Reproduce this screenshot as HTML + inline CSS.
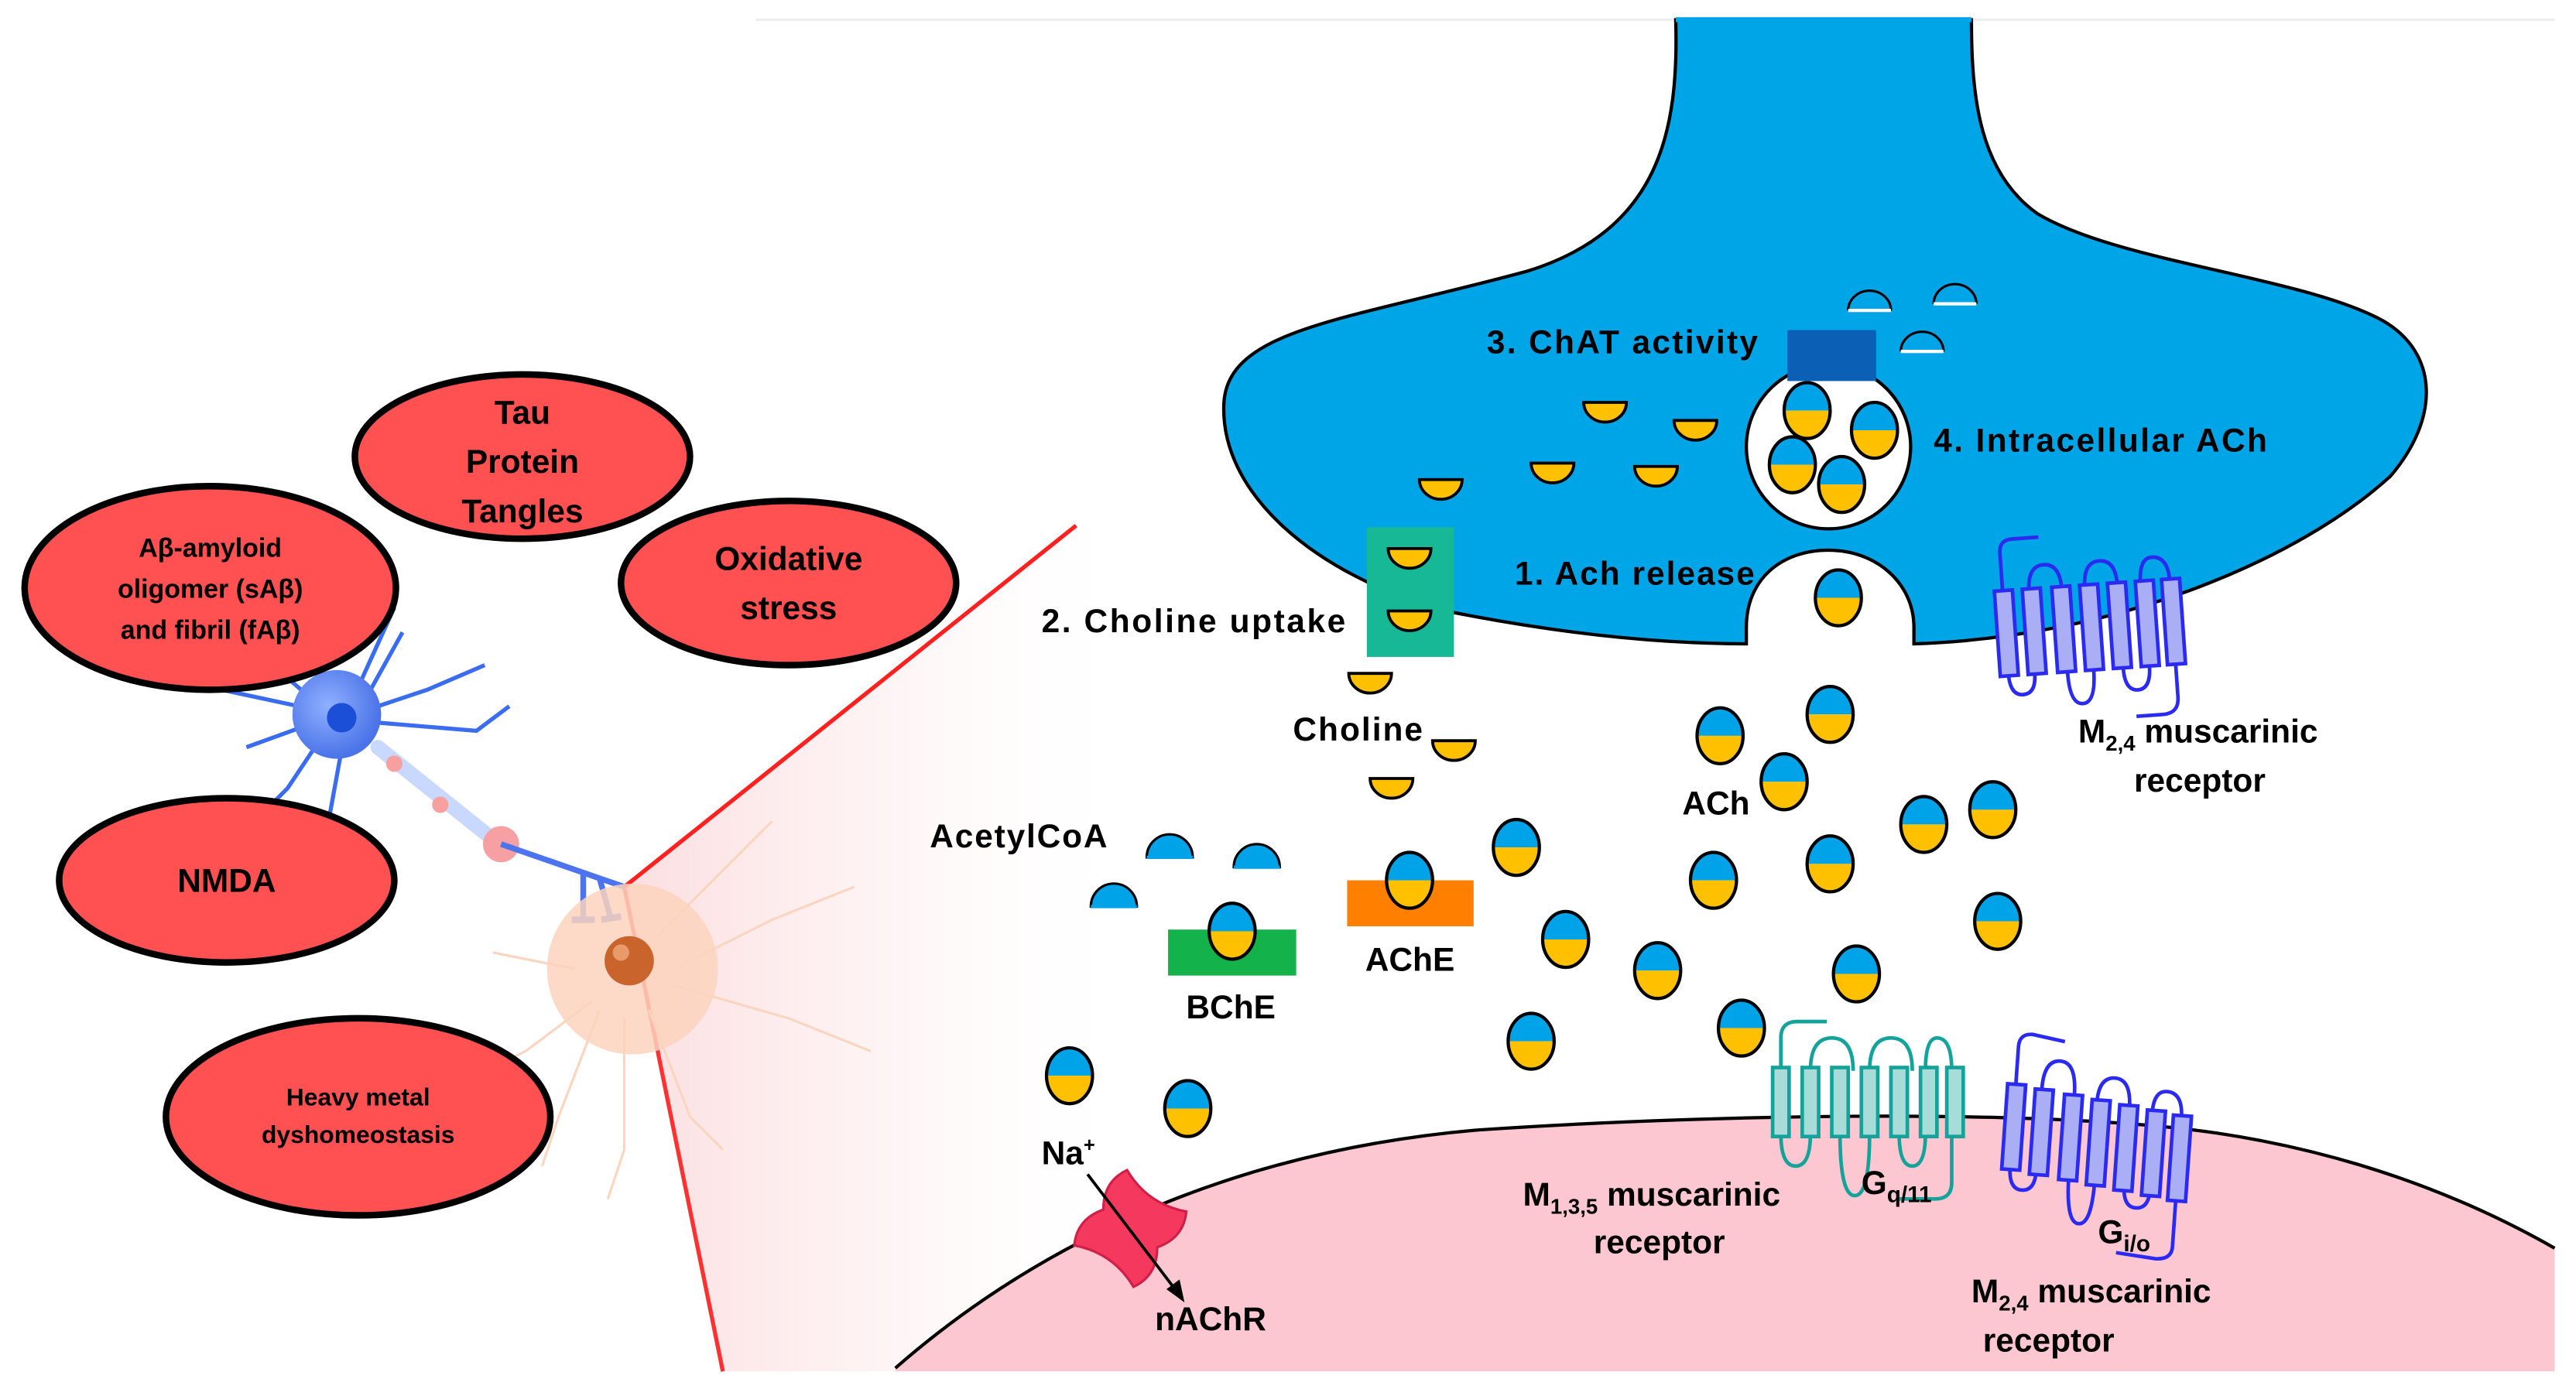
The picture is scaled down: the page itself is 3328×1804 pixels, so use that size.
<!DOCTYPE html>
<html><head><meta charset="utf-8"><style>
html,body{margin:0;padding:0;background:#fff;}
svg{display:block}
text{font-family:"Liberation Sans",sans-serif;font-weight:bold;fill:#000}
</style></head><body>
<svg width="3328" height="1804" viewBox="0 0 1568 850" preserveAspectRatio="none" xmlns="http://www.w3.org/2000/svg">
<defs>
<linearGradient id="wedge" x1="0" y1="0" x2="1" y2="0">
<stop offset="0" stop-color="#fbd6d8" stop-opacity="0.8"/>
<stop offset="0.25" stop-color="#fde8e9" stop-opacity="0.5"/>
<stop offset="0.5" stop-color="#fff" stop-opacity="0"/>
</linearGradient>
<radialGradient id="bn" cx="0.4" cy="0.4" r="0.6"><stop offset="0" stop-color="#8fb0ff"/><stop offset="1" stop-color="#4a73e8"/></radialGradient>
<g id="ach">
<path d="M-14,0 A14,17 0 0 1 14,0 Z" fill="#00a2e8"/>
<path d="M-14,0 A14,17 0 0 0 14,0 Z" fill="#ffc000"/>
<ellipse rx="14" ry="17" fill="none" stroke="#000" stroke-width="2"/>
</g>
<g id="cho">
<path d="M-13,0 A13,12 0 0 0 13,0 Z" fill="#ffc000" stroke="#000" stroke-width="1.8"/>
</g>
<g id="acoa">
<path d="M-14,0 A14,14 0 0 1 14,0 Z" fill="#00a2e8" stroke="#000" stroke-width="1.5"/>
<line x1="-14" y1="0" x2="14" y2="0" stroke="#00a2e8" stroke-width="2"/>
</g>
<g id="dome">
<path d="M-13,0 A13,12 0 0 1 13,0" fill="none" stroke="#000" stroke-width="1.5"/>
<line x1="-13" y1="0" x2="13" y2="0" stroke="#fff" stroke-width="2"/>
</g>
</defs>

<line x1="460" y1="12" x2="1555" y2="12" stroke="#eee" stroke-width="1.5"/>

<path d="M380,540 L655,320 L1000,320 L1000,835 L440,835 Z" fill="url(#wedge)"/>
<line x1="380" y1="540" x2="655" y2="320" stroke="#ff2020" stroke-width="2.5"/>
<line x1="380" y1="540" x2="440" y2="835" stroke="#ff3030" stroke-width="2.5"/>

<path d="M545,833 C640,750 760,700 900,688 C1050,678 1250,675 1350,690 C1450,705 1520,740 1555,760 L1555,835 L545,835 Z" fill="#fcc7d1" stroke="none"/>
<path d="M545,833 C640,750 760,700 900,688 C1050,678 1250,675 1350,690 C1450,705 1520,740 1555,760" fill="none" stroke="#000" stroke-width="2"/>

<path d="M1020,12 C1022,80 1010,140 930,165 C820,195 748,200 745,245 C742,300 800,350 880,372 C960,388 1020,392 1063,392 L1063,382 C1063,352 1085,335 1113,335 C1142,335 1165,355 1165,382 L1165,392 C1290,388 1400,340 1455,290 C1485,255 1485,215 1450,195 C1400,168 1290,160 1240,130 C1205,105 1200,60 1200,12 Z" fill="#00a5e8" stroke="#000" stroke-width="2"/>
<line x1="1020" y1="12" x2="1200" y2="12" stroke="#00a5e8" stroke-width="3"/>

<circle cx="1113" cy="272" r="50" fill="#fff" stroke="#000" stroke-width="2"/>
<use href="#ach" x="1100" y="250"/>
<use href="#ach" x="1141" y="262"/>
<use href="#ach" x="1091" y="283"/>
<use href="#ach" x="1121" y="295"/>
<rect x="1088" y="201" width="54" height="31" fill="#0b5fb5"/>
<use href="#dome" x="1138" y="189"/>
<use href="#dome" x="1190" y="185"/>
<use href="#dome" x="1170" y="214"/>

<use href="#cho" x="977" y="245"/>
<use href="#cho" x="1032" y="256"/>
<use href="#cho" x="945" y="282"/>
<use href="#cho" x="1008" y="284"/>
<use href="#cho" x="877" y="292"/>
<rect x="832" y="321" width="53" height="79" fill="#17b896"/>
<use href="#cho" x="858" y="334"/>
<use href="#cho" x="858" y="372"/>
<use href="#cho" x="834" y="410"/>
<use href="#cho" x="885" y="451"/>
<use href="#cho" x="847" y="474"/>

<rect x="711" y="566" width="78" height="28" fill="#13b24a"/>
<rect x="820" y="536" width="77" height="28" fill="#ff8000"/>
<use href="#acoa" x="712" y="522"/>
<use href="#acoa" x="765" y="528"/>
<use href="#acoa" x="678" y="552"/>

<use href="#ach" x="1119" y="364"/>
<use href="#ach" x="1114" y="435"/>
<use href="#ach" x="1047" y="448"/>
<use href="#ach" x="1086" y="476"/>
<use href="#ach" x="1213" y="493"/>
<use href="#ach" x="1171" y="502"/>
<use href="#ach" x="1043" y="536"/>
<use href="#ach" x="1114" y="526"/>
<use href="#ach" x="923" y="516"/>
<use href="#ach" x="858" y="536"/>
<use href="#ach" x="1216" y="561"/>
<use href="#ach" x="953" y="572"/>
<use href="#ach" x="1009" y="591"/>
<use href="#ach" x="1130" y="593"/>
<use href="#ach" x="1060" y="626"/>
<use href="#ach" x="932" y="634"/>
<use href="#ach" x="651" y="655"/>
<use href="#ach" x="723" y="675"/>
<use href="#ach" x="750" y="567"/>

<g fill="#a8dcd8" stroke="#14a39a" stroke-width="2.2">
<path d="M1084,652 L1084,632 Q1084,622 1094,622 L1112,622" fill="none"/>
<path d="M1102,652 Q1102,632 1115,632 Q1128,632 1128,652 M1138,652 Q1138,632 1151,632 Q1164,632 1164,652 M1172,652 Q1172,632 1179,632 Q1188,632 1188,652" fill="none"/>
<path d="M1084,690 Q1084,710 1093,710 Q1102,710 1102,690 M1120,690 Q1120,728 1129,728 Q1138,728 1138,690 M1156,690 Q1156,710 1164,710 Q1172,710 1172,690" fill="none"/>
<path d="M1188,690 L1188,720 Q1188,730 1178,730 L1155,730" fill="none"/>
<rect x="1079" y="650" width="10" height="42"/><rect x="1097" y="650" width="10" height="42"/><rect x="1115" y="650" width="10" height="42"/><rect x="1133" y="650" width="10" height="42"/><rect x="1151" y="650" width="10" height="42"/><rect x="1169" y="650" width="10" height="42"/><rect x="1185" y="650" width="10" height="42"/>
</g>
<g fill="#a9aef5" stroke="#2a2af0" stroke-width="2.2">
<g transform="translate(1225,632) rotate(4)">
<path d="M4,30 L4,5 Q4,-3 12,-3 L32,0" fill="none"/>
<path d="M20,30 Q20,12 30,12 Q40,12 40,32 M54,36 Q54,20 64,20 Q74,20 74,38 M88,40 Q88,26 96,26 Q106,26 106,42" fill="none"/>
<path d="M4,78 Q4,92 12,92 Q20,92 20,80 M40,80 Q40,110 48,110 Q56,110 56,82 M74,84 Q74,98 82,98 Q90,98 90,86" fill="none"/>
<path d="M106,88 L106,120 Q106,128 96,128 L72,126" fill="none"/>
<rect x="-1" y="28" width="11" height="52"/><rect x="16" y="30" width="11" height="52"/><rect x="34" y="32" width="11" height="52"/><rect x="51" y="34" width="11" height="52"/><rect x="68" y="36" width="11" height="52"/><rect x="85" y="38" width="11" height="52"/><rect x="101" y="40" width="11" height="52"/>
</g>
<g transform="translate(1213,332) rotate(-4)">
<path d="M4,30 L4,5 Q4,-3 12,-3 L28,-3" fill="none"/>
<path d="M20,30 Q20,14 30,14 Q40,14 40,30 M54,30 Q54,14 64,14 Q74,14 74,30 M88,30 Q88,14 96,14 Q106,14 106,30" fill="none"/>
<path d="M4,78 Q4,92 12,92 Q20,92 20,80 M40,80 Q40,100 48,100 Q56,100 56,80 M74,80 Q74,94 82,94 Q90,94 90,80" fill="none"/>
<path d="M106,80 L106,100 Q106,110 96,110 L80,110" fill="none"/>
<rect x="-1" y="28" width="11" height="52"/><rect x="16" y="28" width="11" height="52"/><rect x="34" y="28" width="11" height="52"/><rect x="51" y="28" width="11" height="52"/><rect x="68" y="28" width="11" height="52"/><rect x="85" y="28" width="11" height="52"/><rect x="101" y="28" width="11" height="52"/>
</g>
</g>

<g transform="translate(688,748) rotate(35)">
<path d="M-22,-28 Q0,-18 22,-28 Q30,-14 20,0 Q30,14 22,28 Q0,18 -22,28 Q-30,14 -20,0 Q-30,-14 -22,-28 Z" fill="#f5385e" stroke="#d02048" stroke-width="1.5"/>
</g>
<line x1="662" y1="715" x2="716" y2="786" stroke="#000" stroke-width="1.8"/>
<path d="M721,793 L710,785 L718,779 Z" fill="#000"/>

<g stroke="#3a6cf0" stroke-width="2.5" fill="none">
<path d="M205,435 L135,420 M205,435 L150,455 M205,435 L175,480 L160,495 M210,445 L200,500 L185,520 M215,435 L260,420 L295,405 M220,430 L245,385 M215,425 L240,370 M230,440 L290,445 L310,430 M195,430 L160,400"/>
</g>
<circle cx="205" cy="435" r="27" fill="url(#bn)"/>
<circle cx="208" cy="437" r="9" fill="#1c4fd8"/>
<path d="M230,455 L305,515" stroke="#c8d8ff" stroke-width="9" stroke-linecap="round"/>
<circle cx="240" cy="465" r="5" fill="#f8a0a0"/><circle cx="268" cy="490" r="5" fill="#f8a0a0"/>
<circle cx="305" cy="514" r="11" fill="#f6a0a4"/>
<path d="M305,514 L380,540 M355,532 L355,560 M365,535 L372,560" stroke="#4d74ef" stroke-width="3.5" fill="none"/>
<path d="M348,560 L362,560 M366,560 L378,558" stroke="#4d74ef" stroke-width="4"/>
<g stroke="#fad5c0" stroke-width="1.5" fill="none">
<path d="M360,610 L320,640 L300,650 M365,615 L340,680 L330,710 M380,620 L380,700 L370,730 M395,615 L420,680 L440,700 M410,590 L470,560 L520,540 M400,570 L450,520 L470,500 M410,600 L480,620 L530,640 M350,590 L300,580"/>
</g>
<circle cx="385" cy="590" r="52" fill="#fbd3bd" opacity="0.85"/>
<circle cx="383" cy="585" r="15" fill="#c8642c"/>
<circle cx="378" cy="580" r="5" fill="#e89a6a"/>

<g fill="#ff5151" stroke="#000" stroke-width="4">
<ellipse cx="318" cy="278" rx="102" ry="50"/>
<ellipse cx="480" cy="355" rx="102" ry="50"/>
<ellipse cx="128" cy="358" rx="113" ry="62"/>
<ellipse cx="138" cy="536" rx="102" ry="50"/>
<ellipse cx="218" cy="680" rx="117" ry="60"/>
</g>
<g font-size="20" text-anchor="middle">
<text x="318" y="258">Tau</text><text x="318" y="288">Protein</text><text x="318" y="318">Tangles</text>
<text x="480" y="347">Oxidative</text><text x="480" y="377">stress</text>
<text x="138" y="543">NMDA</text>
</g>
<g text-anchor="middle" font-size="16">
<text x="128" y="339">Aβ-amyloid</text><text x="128" y="364">oligomer (sAβ)</text><text x="128" y="389">and fibril (fAβ)</text>
</g>
<g text-anchor="middle" font-size="15">
<text x="218" y="673" font-weight="normal">Heavy metal</text><text x="218" y="696" font-weight="normal">dyshomeostasis</text>
</g>

<g font-size="20">
<text x="905" y="215" textLength="165">3. ChAT activity</text>
<text x="1177" y="275" textLength="203">4. Intracellular ACh</text>
<text x="922" y="356" textLength="146">1. Ach release</text>
<text x="634" y="385" textLength="185">2. Choline uptake</text>
<text x="787" y="451" textLength="79">Choline</text>
<text x="1024" y="496">ACh</text>
<text x="566" y="516" textLength="108">AcetylCoA</text>
<text x="831" y="591">AChE</text>
<text x="722" y="620">BChE</text>
<text x="634" y="709">Na<tspan font-size="12" dy="-8">+</tspan></text>
<text x="703" y="810">nAChR</text>
<text x="1265" y="452">M<tspan font-size="13" dy="5">2,4</tspan><tspan dy="-5"> muscarinic</tspan></text>
<text x="1299" y="482">receptor</text>
<text x="927" y="734">M<tspan font-size="13" dy="5">1,3,5</tspan><tspan dy="-5"> muscarinic</tspan></text>
<text x="970" y="763">receptor</text>
<text x="1133" y="727">G<tspan font-size="14" dy="5">q/11</tspan></text>
<text x="1277" y="757">G<tspan font-size="14" dy="5">i/o</tspan></text>
<text x="1200" y="793">M<tspan font-size="13" dy="5">2,4</tspan><tspan dy="-5"> muscarinic</tspan></text>
<text x="1207" y="823">receptor</text>
</g>
</svg>
</body></html>
